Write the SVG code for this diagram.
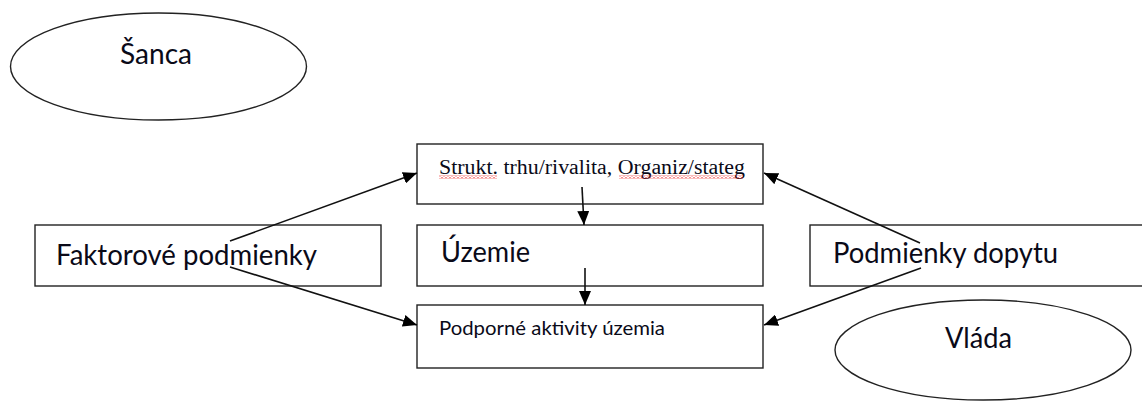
<svg xmlns="http://www.w3.org/2000/svg" width="1142" height="403" viewBox="0 0 1142 403">
<style>
.shape{fill:#fff;stroke:#222;stroke-width:1.4}
.lbl{font-family:Lato,"Open Sans",sans-serif;font-size:28px;fill:#0a0a18}
.small{font-family:Lato,"Open Sans",sans-serif;font-size:19px;fill:#0a0a18}
.serif{font-family:"Liberation Serif",serif;font-size:20px;fill:#0a0a18}
.conn{stroke:#111;stroke-width:1.6;fill:none;marker-end:url(#ah)}
</style>
<defs>
<marker id="ah" viewBox="0 0 14 12" refX="14" refY="6" markerWidth="14" markerHeight="12" markerUnits="userSpaceOnUse" orient="auto">
<path d="M0 0 L14 6 L0 12 Z" fill="#000"/>
</marker>
<pattern id="wave" x="0" y="0" width="4" height="3" patternUnits="userSpaceOnUse">
<path d="M0 2.5 L2 0.5 L4 2.5" fill="none" stroke="#e00" stroke-width="1"/>
</pattern>
</defs>
<rect width="1142" height="403" fill="#fff"/>
<g id="sanca">
<ellipse class="shape" cx="158.5" cy="66.5" rx="148" ry="53.5"/>
<text class="lbl" x="120" y="64" textLength="72" lengthAdjust="spacingAndGlyphs">Šanca</text>
</g>
<g id="strukt">
<rect class="shape" x="417" y="144" width="346" height="60"/>
<text class="serif" x="439" y="174" textLength="306" lengthAdjust="spacingAndGlyphs">Strukt. trhu/rivalita, Organiz/stateg</text>
<rect x="439" y="175.5" width="58" height="3" fill="url(#wave)"/>
<rect x="619" y="175.5" width="124" height="3" fill="url(#wave)"/>
</g>
<g id="faktorove">
<rect class="shape" x="35" y="225" width="346" height="61"/>
<text class="lbl" x="56" y="265" textLength="261" lengthAdjust="spacingAndGlyphs">Faktorové podmienky</text>
</g>
<g id="uzemie">
<rect class="shape" x="417" y="225" width="346" height="61"/>
<text class="lbl" x="441" y="262" textLength="89" lengthAdjust="spacingAndGlyphs">Územie</text>
</g>
<g id="dopyt">
<rect class="shape" x="810" y="225" width="340" height="61"/>
<text class="lbl" x="833" y="263" textLength="225" lengthAdjust="spacingAndGlyphs">Podmienky dopytu</text>
</g>
<g id="podporne">
<rect class="shape" x="417" y="305" width="346" height="63"/>
<text class="small" x="439" y="335" textLength="226" lengthAdjust="spacingAndGlyphs">Podporné aktivity územia</text>
</g>
<g id="vlada">
<ellipse class="shape" cx="983" cy="350" rx="148" ry="50"/>
<text class="lbl" x="945" y="348" textLength="67" lengthAdjust="spacingAndGlyphs">Vláda</text>
</g>
<g id="connectors">
<line class="conn" x1="230" y1="241" x2="417" y2="173"/>
<line class="conn" x1="230" y1="267" x2="417" y2="325"/>
<line class="conn" x1="920" y1="243" x2="764" y2="173"/>
<line class="conn" x1="921" y1="268" x2="764" y2="325"/>
<line class="conn" x1="582" y1="187" x2="584" y2="225"/>
<line class="conn" x1="585" y1="268" x2="585" y2="305"/>
</g>
</svg>
